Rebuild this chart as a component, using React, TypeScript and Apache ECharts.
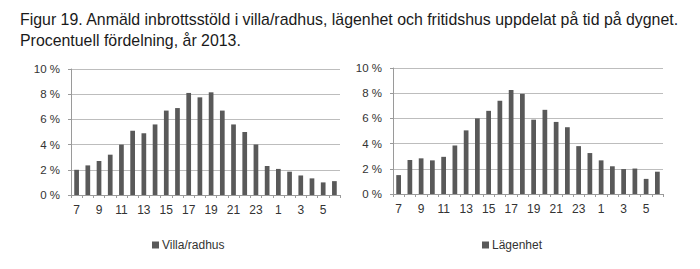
import React, { useEffect, useRef } from "react";
import * as echarts from "echarts";

const hours = ["7","8","9","10","11","12","13","14","15","16","17","18","19","20","21","22","23","0","1","2","3","4","5","6"];
const villaValues = [2.0,2.35,2.7,3.2,4.0,5.1,4.9,5.6,6.7,6.9,8.1,7.75,8.15,6.7,5.6,5.0,4.0,2.3,2.07,1.85,1.55,1.32,1.0,1.1];
const lagenhetValues = [1.5,2.7,2.83,2.67,2.95,3.85,5.05,6.0,6.6,7.4,8.25,7.95,5.9,6.68,5.72,5.3,3.8,3.25,2.67,2.2,1.98,2.02,1.2,1.77];
const yTicks = [0, 2, 4, 6, 8, 10];
const seriesNames = ["Villa/radhus", "Lägenhet"];
const titleLines = [
  "Figur 19. Anmäld inbrottsstöld i villa/radhus, lägenhet och fritidshus uppdelat på tid på dygnet.",
  "Procentuell fördelning, år 2013.",
];

const FONT = "Liberation Sans, Arial, sans-serif";
const BAR = "#595959";
const TXT = "#333333";

export default function App() {
  const ref = useRef<HTMLDivElement>(null);
  useEffect(() => {
    if (!ref.current) return;
    const chart = echarts.init(ref.current, undefined, { renderer: "svg" });
    const grids = [
      { left: 71, right: 360, top: 69, height: 126 },
      { left: 393, right: 37, top: 68, height: 126 },
    ];
    const xAxis = grids.map((_, i) => ({
      type: "category" as const,
      gridIndex: i,
      data: hours,
      boundaryGap: true,
      axisLine: { lineStyle: { color: "#9a9a9a", width: 1 } },
      axisTick: { show: true, interval: 0, length: 3, lineStyle: { color: "#9a9a9a" } },
      axisLabel: { interval: 1, color: TXT, fontSize: 12, fontFamily: FONT, margin: 9 },
    }));
    const yAxis = grids.map((_, i) => ({
      type: "value" as const,
      gridIndex: i,
      min: 0,
      max: 10,
      interval: 2,
      axisLine: { show: true, lineStyle: { color: "#9a9a9a", width: 1 } },
      axisTick: { show: true, length: 3, lineStyle: { color: "#9a9a9a" } },
      splitLine: { show: true, lineStyle: { color: "#bdbdbd", width: 1 } },
      axisLabel: {
        color: TXT,
        fontSize: 11.5,
        fontFamily: FONT,
        margin: 11,
        formatter: (v: number) => (yTicks.includes(v) ? `${v} %` : ""),
      },
    }));
    chart.setOption({
      animation: false,
      backgroundColor: "#ffffff",
      title: {
        text: titleLines.join("\n"),
        left: 15,
        top: 4,
        textStyle: { fontFamily: FONT, fontSize: 15.9, fontWeight: "normal", color: "#1a1a1a", lineHeight: 21 },
      },
      grid: grids,
      xAxis,
      yAxis,
      legend: [
        {
          data: [seriesNames[0]],
          left: 147,
          top: 234,
          icon: "rect",
          itemWidth: 7,
          itemHeight: 7,
          itemGap: 4,
          textStyle: { fontFamily: FONT, fontSize: 12, color: TXT, padding: [0, 0, 0, -2] },
        },
        {
          data: [seriesNames[1]],
          left: 477,
          top: 234,
          icon: "rect",
          itemWidth: 7,
          itemHeight: 7,
          textStyle: { fontFamily: FONT, fontSize: 12, color: TXT, padding: [0, 0, 0, -2] },
        },
      ],
      series: [
        { name: seriesNames[0], type: "bar", xAxisIndex: 0, yAxisIndex: 0, data: villaValues, barWidth: "42%", itemStyle: { color: BAR } },
        { name: seriesNames[1], type: "bar", xAxisIndex: 1, yAxisIndex: 1, data: lagenhetValues, barWidth: "42%", itemStyle: { color: BAR } },
      ],
    });
    return () => chart.dispose();
  }, []);
  return <div ref={ref} style={{ width: 700, height: 269, position: "absolute", left: 0, top: 0 }} />;
}
